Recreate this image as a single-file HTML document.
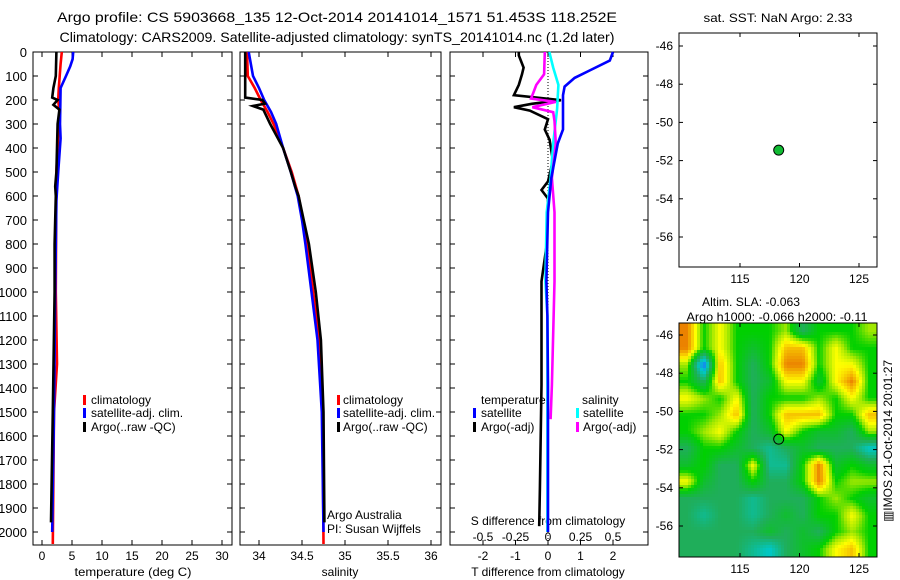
<!DOCTYPE html>
<html><head><meta charset="utf-8"><style>
body{margin:0;background:#fff;}
svg{display:block;font-family:"Liberation Sans",sans-serif;font-size:12px;}
</style></head><body>
<svg id="c" width="900" height="580" viewBox="0 0 900 580">
<g id="g"></g>
</svg>
<script>
// ---- data ----
const depthTicks=[0,100,200,300,400,500,600,700,800,900,1000,1100,1200,1300,1400,1500,1600,1700,1800,1900,2000];
const tempTicks=[0,5,10,15,20,25,30];
const salTicks=[34,34.5,35,35.5,36];
const tdTicks=[-2,-1,0,1,2];
const sdTicks=[-0.5,-0.25,0,0.25,0.5];
const sdTickLabels=["-0.5","-0.25","0","0.25","0.5"];
const latTicks=[-46,-48,-50,-52,-54,-56];
const lonTicks=[115,120,125];

const tClimD=[0,50,150,200,250,300,500,1000,1300,1500,2050];
const tClimV=[3.3,3.1,2.8,2.7,2.9,2.8,2.4,2.3,2.5,2.0,1.8];
const tSatD=[0,30,60,100,150,300,360,500,620,1000,1500,2000];
const tSatV=[5.2,5.1,4.7,4.0,3.1,3.0,3.1,2.7,2.4,2.2,2.0,1.7];
const tArgoD=[0,100,150,190,200,220,240,300,500,560,600,800,1000,1500,1960];
const tArgoV=[2.4,2.3,1.9,1.7,2.6,1.9,2.9,2.6,2.4,2.2,2.3,2.1,2.1,1.8,1.5];

const sClimD=[0,100,150,200,250,300,400,500,600,700,800,1000,1200,1300,1500,2050];
const sClimV=[33.86,33.87,33.95,34.02,34.1,34.17,34.28,34.38,34.46,34.51,34.56,34.63,34.7,34.72,34.74,34.75];
const sSatD=[0,100,150,200,250,300,400,500,600,700,800,1000,1200,1500,2000];
const sSatV=[33.88,33.93,34.0,34.06,34.14,34.2,34.28,34.37,34.45,34.5,34.54,34.61,34.68,34.73,34.75];
const sArgoD=[0,190,200,215,225,240,300,400,500,560,600,700,800,1000,1200,1500,1960];
const sArgoV=[33.84,33.84,34.04,34.07,33.93,34.05,34.13,34.28,34.37,34.42,34.46,34.52,34.58,34.66,34.72,34.75,34.76];

const dTArgoD=[0,14,65,93,137,180,201,216,230,244,280,323,366,453,539,575,611,812,956,1387,1818,1976];
const dTArgoV=[-0.9,-0.9,-0.75,-0.8,-0.9,-1.05,0.4,-0.5,-1.05,-0.56,0,-0.1,0.05,0.15,0,-0.2,0,-0.05,-0.2,-0.2,-0.25,-0.27];
const dTSatD=[0,36,79,108,144,180,323,381,525,668,956,1100,1387,2000];
const dTSatV=[2.0,1.9,1.25,0.82,0.51,0.46,0.46,0.3,0.1,0,-0.05,-0.02,0,0];
const dSArgoD=[0,93,137,194,208,230,251,287,381,525,668,956,1387,1530];
const dSArgoV=[-0.025,-0.03,-0.09,-0.13,0.06,-0.12,0.04,0.05,0.06,0.03,0.05,0.05,0.03,0.02];
const dSSatD=[0,65,137,237,381,525,668,956,1100,2000];
const dSSatV=[0.01,0.04,0.08,0.07,0.04,0.02,-0.01,-0.02,-0.005,-0.005];

const floatLon=118.252, floatLat=-51.453;
const slaGrid=[
[3,1,2,1,1,1,1.5,0,1,1,1,1.5],
[3,1,2,1,0.5,1,2.5,2.5,1,2,1,1],
[1.5,-2,2.5,1,0,1,3,3,1,2,2,1],
[1,0,2.5,1,0,0.5,2,2,0.5,2,3,1],
[2,1.5,1,2,0,1,1,1,1.5,1,2,1],
[1,1,1.5,2.5,0,1,2.5,2.5,2.5,1,1,2.5],
[1,1.5,2,1,0,0.5,2,1,0.5,0.5,0,1.5],
[0,1,1,0.5,0,-0.5,0,0.5,0,0,0,-1],
[0.5,1,0,0,2,-0.5,-0.5,1,3,0.5,1,0.5],
[2,0.5,0,0,1,0,0,1,3,1,1.5,1.5],
[0,0,0,0,-0.5,0,0,0,1,1.5,1,0.5],
[0,-0.5,0,0,-0.5,0,0.5,0,1,1,2,1],
[0,0,0,0,0,0.5,0,0.5,0,1,1.5,1],
[0,0,0,0,-0.5,-1,0,0.5,1,2,2.5,1]];
const cmapV=[-2,-1,0,1,1.5,2,2.5,3];
const cmapC=[[30,110,255],[0,200,200],[31,174,90],[0,208,0],[160,232,0],[255,255,0],[245,192,0],[235,130,0]];

// ---- helpers ----
const NS="http://www.w3.org/2000/svg";
const G=document.getElementById('g');
function mk(tag,at,parent){const e=document.createElementNS(NS,tag);for(const k in at)e.setAttribute(k,at[k]);(parent||G).appendChild(e);return e;}
function txt(x,y,s,anchor,parent){const t=mk('text',{x:x,y:y,'text-anchor':anchor||'start'},parent);t.textContent=s;return t;}
const yD=d=>52+d*0.24;
const PB=545;
function lin(v0,p0,v1,p1){return v=>p0+(v-v0)*(p1-p0)/(v1-v0);}
const xT=lin(0,42,30,222), xS=lin(34,259,36,431), xTD=lin(0,548,2,613), xSD=lin(0,548,0.5,613);
const xLon=lin(115,740,125,859), yLat1=lin(-46,46,-56,237), yLat2=lin(-46,335,-56,526);

function line(D,V,xf,col,name,parent){
  const pts=D.map((d,i)=>xf(V[i]).toFixed(1)+','+yD(d).toFixed(1)).join(' ');
  const p=mk('polyline',{points:pts,fill:'none',stroke:col,'stroke-width':2.6,'stroke-linejoin':'miter'},parent);
  
  
}
function panel(x0,x1,name){
  const g=mk('g',{});
  
  
  mk('rect',{x:x0,y:52,width:x1-x0,height:PB-52,fill:'none',stroke:'#000','stroke-width':1},g);
  depthTicks.forEach(d=>{mk('line',{x1:x0,x2:x0+5,y1:yD(d),y2:yD(d),stroke:'#000'},g);mk('line',{x1:x1,x2:x1-5,y1:yD(d),y2:yD(d),stroke:'#000'},g);});
  return g;
}
function xticks(g,ticks,xf,labels,y){
  ticks.forEach((t,i)=>{const x=xf(t);mk('line',{x1:x,x2:x,y1:PB,y2:PB-5,stroke:'#000'},g);mk('line',{x1:x,x2:x,y1:52,y2:57,stroke:'#000'},g);
  txt(x,y,labels?labels[i]:String(t),'middle',g);});
}
function legMark(g,x,y,col){mk('rect',{x:x,y:y-5,width:3,height:10,fill:col},g);}
function fitText(t,len){t.setAttribute('textLength',len);t.setAttribute('lengthAdjust','spacingAndGlyphs');}

// titles
let t1=txt(337,22,'Argo profile: CS 5903668_135 12-Oct-2014 20141014_1571 51.453S 118.252E','middle');
t1.setAttribute('font-size','14');fitText(t1,560);
let t2=txt(337,42,'Climatology: CARS2009. Satellite-adjusted climatology: synTS_20141014.nc (1.2d later)','middle');
t2.setAttribute('font-size','14');fitText(t2,555);

// panel 1 temperature
const p1=panel(33,232,'temperature-panel');
depthTicks.forEach(d=>{const t=txt(27,yD(d)+5,String(d),'end',p1);t.setAttribute('font-size','13');});
xticks(p1,tempTicks,xT,null,560);
fitText(txt(133,576,'temperature (deg C)','middle',p1),117);
line(tClimD,tClimV,xT,'#ff0000','temp-climatology-line',p1);
line(tSatD,tSatV,xT,'#0000ff','temp-satellite-line',p1);
line(tArgoD,tArgoV,xT,'#000000','temp-argo-line',p1);
legMark(p1,83,400,'#f00');txt(91,404,'climatology','start',p1);
legMark(p1,83,413,'#00f');txt(91,417,'satellite-adj. clim.','start',p1);
legMark(p1,83,427,'#000');txt(91,431,'Argo(..raw -QC)','start',p1);

// panel 2 salinity
const p2=panel(240,441,'salinity-panel');
xticks(p2,salTicks,xS,null,560);
txt(340,576,'salinity','middle',p2);
line(sClimD,sClimV,xS,'#ff0000','sal-climatology-line',p2);
line(sSatD,sSatV,xS,'#0000ff','sal-satellite-line',p2);
line(sArgoD,sArgoV,xS,'#000000','sal-argo-line',p2);
legMark(p2,337,400,'#f00');txt(343,404,'climatology','start',p2);
legMark(p2,337,413,'#00f');txt(343,417,'satellite-adj. clim.','start',p2);
legMark(p2,337,427,'#000');txt(343,431,'Argo(..raw -QC)','start',p2);
txt(327,519,'Argo Australia','start',p2);
txt(327,533,'PI: Susan Wijffels','start',p2);

// panel 3 differences
const p3=panel(450,648,'difference-panel');
mk('line',{x1:xTD(0),x2:xTD(0),y1:52,y2:PB,stroke:'#000','stroke-dasharray':'1,2'},p3);
xticks(p3,tdTicks,xTD,null,560);
txt(548,576,'T difference from climatology','middle',p3);
sdTicks.forEach((t,i)=>txt(xSD(t),541,sdTickLabels[i],'middle',p3));
txt(548,525,'S difference from climatology','middle',p3);
line(dTArgoD,dTArgoV,xTD,'#000000','tdiff-argo-line',p3);
line(dSSatD,dSSatV,xSD,'#00ffff','sdiff-satellite-line',p3);
line(dSArgoD,dSArgoV,xSD,'#ff00ff','sdiff-argo-line',p3);
line(dTSatD,dTSatV,xTD,'#0000ff','tdiff-satellite-line',p3);
txt(481,404,'temperature','start',p3);
legMark(p3,473,413,'#00f');txt(481,417,'satellite','start',p3);
legMark(p3,473,427,'#000');txt(481,431,'Argo(-adj)','start',p3);
txt(582,404,'salinity','start',p3);
legMark(p3,576,413,'#0ff');txt(583,417,'satellite','start',p3);
legMark(p3,576,427,'#f0f');txt(583,431,'Argo(-adj)','start',p3);

// map axes helper
function mapAxes(g,top,bot,yLat){
  mk('rect',{x:679,y:top,width:198,height:bot-top,fill:'none',stroke:'#000'},g);
  latTicks.forEach(l=>{const y=yLat(l);mk('line',{x1:679,x2:683,y1:y,y2:y,stroke:'#000'},g);mk('line',{x1:877,x2:873,y1:y,y2:y,stroke:'#000'},g);txt(673,y+4,String(l),'end',g);});
  lonTicks.forEach(l=>{const x=xLon(l);mk('line',{x1:x,x2:x,y1:bot,y2:bot-4,stroke:'#000'},g);mk('line',{x1:x,x2:x,y1:top,y2:top+4,stroke:'#000'},g);txt(x,bot+16,String(l),'middle',g);});
}
// top map
const m1=mk('g',{});


fitText(txt(778,22,'sat. SST: NaN Argo: 2.33','middle',m1),149);
mapAxes(m1,33,267,yLat1);
const dot=mk('circle',{cx:xLon(floatLon),cy:yLat1(floatLat),r:5,fill:'#11bb33',stroke:'#000','stroke-width':1},m1);



// bottom SLA map
const m2=mk('g',{});


function cmap(v){
  if(v<=cmapV[0])return cmapC[0];
  for(let i=1;i<cmapV.length;i++){if(v<=cmapV[i]){const f=(v-cmapV[i-1])/(cmapV[i]-cmapV[i-1]);return cmapC[i].map((c,k)=>Math.round(cmapC[i-1][k]+f*(c-cmapC[i-1][k])));}}
  return cmapC[cmapC.length-1];
}
const nR=slaGrid.length,nC=slaGrid[0].length,cw=198/nC,ch=234/nR;
function sample(fx,fy){ // fx,fy in cell-center coordinates
  fx=Math.max(0,Math.min(nC-1,fx));fy=Math.max(0,Math.min(nR-1,fy));
  const c0=Math.floor(fx),r0=Math.floor(fy),c1=Math.min(nC-1,c0+1),r1=Math.min(nR-1,r0+1);
  const a=fx-c0,b=fy-r0;
  return (slaGrid[r0][c0]*(1-a)+slaGrid[r0][c1]*a)*(1-b)+(slaGrid[r1][c0]*(1-a)+slaGrid[r1][c1]*a)*b;
}
const hg=mk('g',{},m2);
const px=3;
for(let y=323;y<557;y+=px){
  for(let x=679;x<877;x+=px){
    const v=sample((x+px/2-679)/cw-0.5,(y+px/2-323)/ch-0.5);
    const col=cmap(v);
    const cell=mk('rect',{x:x,y:y,width:Math.min(px,877-x)+0.3,height:Math.min(px,557-y)+0.3,fill:'rgb('+col.join(',')+')'},hg);
    
    
  }
}
fitText(txt(751,306,'Altim. SLA: -0.063','middle',m2),98);
fitText(txt(777,321,'Argo h1000: -0.066 h2000: -0.11','middle',m2),181);
mapAxes(m2,323,557,yLat2);
const ring=mk('circle',{cx:xLon(floatLon),cy:yLat2(floatLat),r:5,fill:'none',stroke:'#000','stroke-width':1},m2);


const rt=mk('text',{x:0,y:0,transform:'translate(892,441) rotate(-90)','text-anchor':'middle'},m2);
rt.textContent='\u25A5IMOS 21-Oct-2014 20:01:27';


</script>
</body></html>
